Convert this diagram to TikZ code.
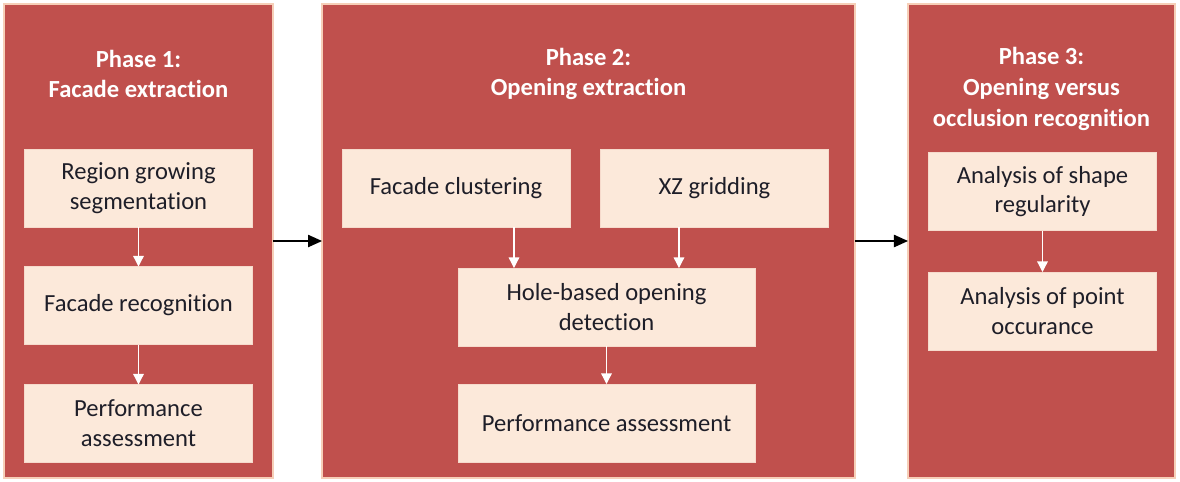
\documentclass[tikz,border=0pt]{standalone}
\usepackage{fontspec}
\setmainfont{Carlito}[Ligatures=NoCommon]
\usetikzlibrary{positioning,arrows.meta}

\definecolor{phasered}{HTML}{C0504D}
\definecolor{phaseedge}{HTML}{F6CFB8}
\definecolor{taskfill}{HTML}{FCE9DA}
\definecolor{tasktext}{HTML}{1E1E28}

\begin{document}
\begin{tikzpicture}[x=0.02cm,y=-0.02cm]
	% Define styles
	\tikzset{
		phase/.style={draw=phaseedge, fill=phasered, line width=0.8pt, minimum height=9.48cm, outer sep=0pt},
		phasetitle/.style={align=center, text=white, font=\fontsize{14}{17.5}\selectfont\bfseries},
		task/.style={fill=taskfill, draw=taskfill!90!phasered, line width=0.3pt, minimum width=4.56cm, minimum height=1.56cm, align=center, text=tasktext, font=\fontsize{14}{17}\selectfont, outer sep=0pt},
		taskarrow/.style={draw=white, line width=0.7pt, -{Triangle[width=6pt,length=6pt]}},
		phasearrow/.style={draw=black, line width=0.8pt, -{Triangle[width=7pt,length=8pt]}}
	}
	\useasboundingbox (0,0) rectangle (1180,481);
	
	% Phase boxes
	\node[phase, minimum width=5.38cm] (p1) at (138.5,241) {};
	\node[phase, minimum width=10.66cm] (p2) at (588.5,241) {};
	\node[phase, minimum width=5.34cm] (p3) at (1041.5,241) {};
	
	% Phase 1: Facade extraction
	\node[phasetitle] (t1) at (138.5,74) {Phase 1:\\Facade extraction};
	\node[task] (rg) at (138.5,188) {Region growing\\segmentation};
	\node[task] (fr) at (138.5,305.5) {Facade recognition};
	\node[task] (pa1) at (138.5,423.5) {Performance\\assessment};
	\draw[taskarrow] (rg) -- (fr);
	\draw[taskarrow] (fr) -- (pa1);
	
	% Phase 2: Opening extraction
	\node[phasetitle] (t2) at (588.5,74) {Phase 2:\\Opening extraction};
	\node[task] (fc) at (456,188) {Facade clustering};
	\node[task] (xz) at (714.5,188) {XZ gridding};
	\node[task, minimum width=5.94cm] (hole) at (606.5,307) {Hole-based opening\\detection};
	\node[task, minimum width=5.94cm] (pa2) at (606.5,423) {Performance assessment};
	\draw[taskarrow] ([xshift=-1.12cm]fc.south east) -- ([xshift=-1.12cm]fc.south east |- hole.north);
	\draw[taskarrow] ([xshift=-1.52cm]hole.north east |- xz.south) -- ([xshift=-1.52cm]hole.north east);
	\draw[taskarrow] (hole) -- (pa2);
	
	% Phase 3: Opening versus occlusion recognition
	\node[phasetitle] (t3) at (1041.5,89) {Phase 3:\\Opening versus\\occlusion recognition};
	\node[task] (sr) at (1042.5,191.5) {Analysis of shape\\regularity};
	\node[task] (po) at (1042.5,311) {Analysis of point\\occurance};
	\draw[taskarrow] (sr) -- (po);
	
	% Flow between phases
	\draw[phasearrow] (p1) -- (p2);
	\draw[phasearrow] (p2) -- (p3);
\end{tikzpicture}
\end{document}
